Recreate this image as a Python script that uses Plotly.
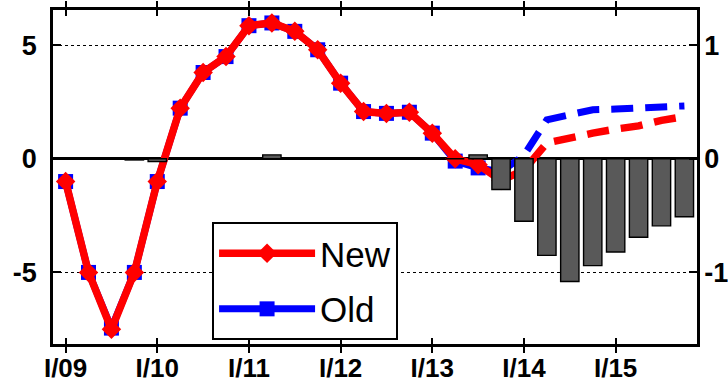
import plotly.graph_objects as go

# ---- data ----
quarters = list(range(28))  # I/09 .. IV/15
tick_pos = [0, 4, 8, 12, 16, 20, 24]
tick_labels = ["I/09", "I/10", "I/11", "I/12", "I/13", "I/14", "I/15"]

new_hist = [-1.0, -5.0, -7.5, -5.0, -1.0, 2.23, 3.8, 4.5, 5.86, 5.98, 5.61, 4.8,
            3.33, 2.08, 2.0, 2.05, 1.13, 0.0, -0.26, -0.95]
old_hist = [-1.0, -5.0, -7.45, -5.0, -1.0, 2.23, 3.8, 4.5, 5.86, 5.98, 5.61, 4.8,
            3.33, 2.08, 2.0, 2.05, 1.13, -0.1, -0.4, -0.57]
new_fc = [-0.95, -0.5, 0.7, 0.95, 1.13, 1.31, 1.45, 1.69, 1.86]
old_fc = [-0.57, 0.15, 1.72, 1.96, 2.16, 2.19, 2.22, 2.28, 2.33]
diff_bars = [0.0, 0.0, 0.0, -0.01, -0.025, 0.0, 0.0, 0.0, 0.0, 0.035, 0.0, 0.0, 0.0, 0.0,
             0.0, 0.0, 0.0, 0.0, 0.035, -0.27, -0.55, -0.85, -1.08, -0.94, -0.82,
             -0.69, -0.59, -0.51]

hist_x = quarters[:len(new_hist)]
fc_x = quarters[len(new_hist) - 1:]

RED = "#ff0000"
BLUE = "#0000ff"
FONT = "Liberation Sans, Arial, sans-serif"
TICKFONT = dict(size=27, family=FONT, weight="bold")
XTICKFONT = dict(size=26, family=FONT, weight="bold")

fig = go.Figure()

fig.add_trace(go.Bar(
    x=quarters, y=diff_bars, yaxis="y2", width=0.8,
    marker=dict(color="#595959", line=dict(color="black", width=1.4)),
    showlegend=False, hoverinfo="skip"))

fig.add_trace(go.Scatter(
    x=hist_x, y=old_hist, mode="lines+markers", name="Old", legendgroup="old",
    line=dict(color=BLUE, width=7),
    marker=dict(symbol="square", size=15, color=BLUE), legendrank=2))
fig.add_trace(go.Scatter(
    x=fc_x, y=old_fc, mode="lines", showlegend=False, legendgroup="old",
    line=dict(color=BLUE, width=7, dash="22px,12px")))

fig.add_trace(go.Scatter(
    x=hist_x, y=new_hist, mode="lines+markers", name="New", legendgroup="new",
    line=dict(color=RED, width=7.5),
    marker=dict(symbol="diamond", size=15, color=RED), legendrank=1))
fig.add_trace(go.Scatter(
    x=fc_x, y=new_fc, mode="lines", showlegend=False, legendgroup="new",
    line=dict(color=RED, width=7.5, dash="22px,12px")))

fig.update_layout(
    width=728, height=383,
    margin=dict(l=53, r=31, t=10, b=39, autoexpand=False),
    paper_bgcolor="white", plot_bgcolor="white",
    font=dict(family=FONT, color="black"),
    xaxis=dict(
        range=[-0.55, 27.55], tickmode="array", tickvals=tick_pos, ticktext=tick_labels,
        ticks="inside", ticklen=6, tickwidth=1.5, tickcolor="black",
        showline=True, linecolor="black", linewidth=2.5, mirror="allticks",
        showgrid=False, zeroline=False, automargin=False,
        tickfont=XTICKFONT, ticklabelstandoff=-1,
    ),
    yaxis=dict(
        range=[-8.15, 6.55], tickmode="array", tickvals=[-5, 0, 5], ticktext=["-5", "0", "5"],
        ticks="inside", ticklen=8, tickwidth=1.5, tickcolor="black",
        showline=True, linecolor="black", linewidth=2.5,
        showgrid=True, gridcolor="black", gridwidth=1, griddash="dot",
        zeroline=True, zerolinecolor="black", zerolinewidth=2.5, automargin=False,
        tickfont=TICKFONT, ticklabelstandoff=8,
    ),
    yaxis2=dict(
        range=[-1.63, 1.31], overlaying="y", side="right",
        tickmode="array", tickvals=[-1, 0, 1], ticktext=["-1", "0", "1"],
        ticks="inside", ticklen=8, tickwidth=1.5, tickcolor="black",
        showline=True, linecolor="black", linewidth=2.5, automargin=False,
        showgrid=False, zeroline=False,
        tickfont=TICKFONT, ticklabelstandoff=-1,
    ),
    legend=dict(
        x=0.247, y=0.365, xanchor="left", yanchor="top",
        bgcolor="white", bordercolor="black", borderwidth=2,
        font=dict(size=35, family=FONT), itemwidth=96,
        tracegroupgap=7, traceorder="grouped",
    ),
)

fig.write_html("out.html")
